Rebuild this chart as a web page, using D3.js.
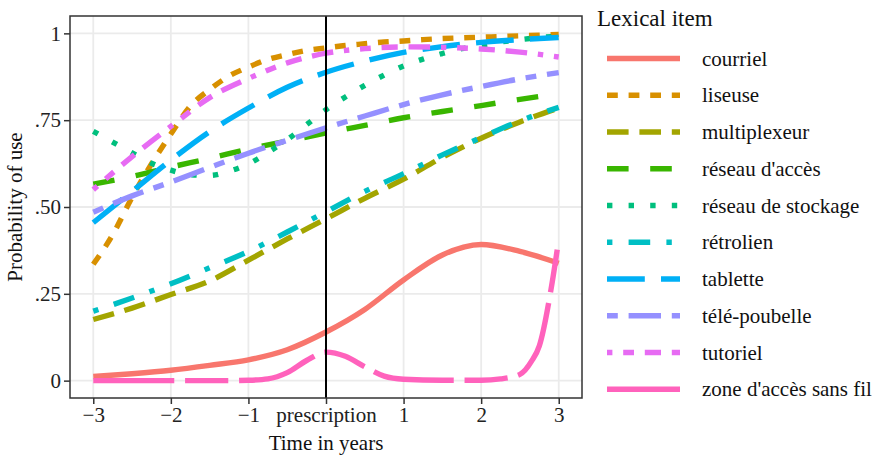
<!DOCTYPE html>
<html lang="en">
	<head>
		<meta charset="utf-8">
		<title>probability of use</title>
		<script type="text/javascript" src="https://d3js.org/d3.v7.min.js"></script>
		<style type="text/css">
            body{margin:0;background:#fff;}
            svg text{font-family:"Liberation Serif","Times New Roman",serif;fill:#111;}
		</style>
	</head>
	<body>
    <div id="chart1"></div>
		<script type="text/javascript">
            //the data. most series use half year steps
            var years = [-3,-2.5,-2,-1.5,-1,-0.5,0,0.5,1,1.5,2,2.5,3]
            //some curves bend more so they get quarter steps
            var yearsFine = [-3,-2.75,-2.5,-2.25,-2,-1.75,-1.5,-1.25,-1,-0.75,-0.5,-0.25,0,0.25,0.5,0.75,1,1.25,1.5,1.75,2,2.25,2.5,2.75,3]
            var zoneYears = [-3,-2,-1.25,-1,-0.75,-0.5,-0.25,0,0.25,0.5,0.75,1,1.5,2,2.25,2.5,2.65,2.75,2.9,3]

            var items = ["courriel","liseuse","multiplexeur","réseau d'accès","réseau de stockage","rétrolien","tablette","télé-poubelle","tutoriel","zone d'accès sans fil"]

            var courriel = [0.012,0.02,0.03,0.044,0.06,0.089,0.14,0.205,0.29,0.362,0.392,0.372,0.338]
            var liseuse = [0.335,0.42,0.528,0.624,0.71,0.79,0.838,0.877,0.903,0.925,0.939,0.951,0.958,0.965,0.97,0.975,0.978,0.982,0.985,0.987,0.989,0.991,0.993,0.995,0.997]
            var multiplexeur = [0.176,0.209,0.248,0.287,0.347,0.408,0.466,0.525,0.58,0.643,0.698,0.745,0.785]
            var reseauAcces = [0.566,0.588,0.615,0.64,0.667,0.69,0.713,0.735,0.757,0.775,0.792,0.81,0.826]
            var reseauStockage = [0.718,0.687,0.656,0.626,0.606,0.593,0.591,0.603,0.624,0.657,0.694,0.737,0.78,0.817,0.85,0.88,0.906,0.926,0.942,0.956,0.966,0.975,0.982,0.988,0.992]
            var retrolien = [0.2,0.238,0.279,0.325,0.372,0.428,0.486,0.545,0.596,0.65,0.7,0.748,0.787]
            var tablette = [0.455,0.545,0.635,0.717,0.785,0.845,0.888,0.92,0.945,0.962,0.974,0.982,0.988]
            var telePoubelle = [0.485,0.532,0.572,0.614,0.655,0.692,0.728,0.762,0.795,0.823,0.847,0.869,0.887]
            var tutoriel = [0.55,0.645,0.732,0.815,0.87,0.915,0.943,0.956,0.961,0.96,0.955,0.946,0.932]
            var zone = [0,0,0,0.001,0.005,0.023,0.058,0.082,0.07,0.04,0.013,0.004,0.001,0.001,0.005,0.018,0.056,0.1,0.262,0.406]

            var xTicks = [-3,-2,-1,0,1,2,3]
            var xTickLabels = ["\u22123","\u22122","\u22121","prescription","1","2","3"]
            var yTicks = [0,0.25,0.5,0.75,1]
            var yTickLabels = ["0",".25",".50",".75","1"]

            //ggplot default hue colours and linetypes, in factor order
            var colors = ["#F8766D","#D89000","#A3A500","#39B600","#00BF7D","#00BFC4","#00B0F6","#9590FF","#E76BF3","#FF62BC"]
            var linetypes = ["solid","22","42","44","13","1343","73","2262","12223242","F282"]

            //pair each item with its x values
            var series = [
                {name:items[0], x:years, y:courriel},
                {name:items[1], x:yearsFine, y:liseuse},
                {name:items[2], x:years, y:multiplexeur},
                {name:items[3], x:years, y:reseauAcces},
                {name:items[4], x:yearsFine, y:reseauStockage},
                {name:items[5], x:years, y:retrolien},
                {name:items[6], x:years, y:tablette},
                {name:items[7], x:years, y:telePoubelle},
                {name:items[8], x:years, y:tutoriel},
                {name:items[9], x:zoneYears, y:zone}
            ]

            var serif = "'Liberation Serif','Times New Roman',serif"

            drawChart(series)

            //turns an R linetype like "1343" into a svg dasharray, lengths are multiples of line width
            function dash(lt, lw){
                if(lt=="solid"){return null}
                return lt.split("").map(function(c){
                    return parseInt(c,16)*lw
                }).join(",")
            }

            function drawChart(series){
                var w = 876
                var h = 458
                var left = 70, right = 582, top = 16, bottom = 398
                var lw = 5.4

                var svg = d3.select("#chart1")
                            .append("svg")
                            .attr("width",w)
                            .attr("height",h)

                //5% expansion on both axes like ggplot
                var xScale = d3.scaleLinear().domain([-3.3,3.3]).range([left,right])
                var yScale = d3.scaleLinear().domain([-0.05,1.05]).range([bottom,top])

                //grid lines
                svg.append("g")
                    .selectAll("line")
                    .data(xTicks)
                    .enter()
                    .append("line")
                    .attr("x1",function(d){return xScale(d)})
                    .attr("x2",function(d){return xScale(d)})
                    .attr("y1",top)
                    .attr("y2",bottom)
                    .attr("stroke","#ebebeb")
                    .attr("stroke-width",1.8)
                svg.append("g")
                    .selectAll("line")
                    .data(yTicks)
                    .enter()
                    .append("line")
                    .attr("y1",function(d){return yScale(d)})
                    .attr("y2",function(d){return yScale(d)})
                    .attr("x1",left)
                    .attr("x2",right)
                    .attr("stroke","#ebebeb")
                    .attr("stroke-width",1.8)

                var line = d3.line()
                    .x(function(d){return xScale(d[0])})
                    .y(function(d){return yScale(d[1])})
                    .curve(d3.curveMonotoneX)

                svg.append("g")
                    .selectAll("path")
                    .data(series)
                    .enter()
                    .append("path")
                    .attr("d",function(d){
                        return line(d.x.map(function(t,i){return [t,d.y[i]]}))
                    })
                    .attr("fill","none")
                    .attr("stroke",function(d,i){return colors[i]})
                    .attr("stroke-width",lw)
                    .attr("stroke-dasharray",function(d,i){return dash(linetypes[i],lw)})

                //the prescription line
                svg.append("line")
                    .attr("x1",xScale(0))
                    .attr("x2",xScale(0))
                    .attr("y1",top)
                    .attr("y2",bottom)
                    .attr("stroke","#000")
                    .attr("stroke-width",2)

                //panel border
                svg.append("rect")
                    .attr("x",left)
                    .attr("y",top)
                    .attr("width",right-left)
                    .attr("height",bottom-top)
                    .attr("fill","none")
                    .attr("stroke","#333")
                    .attr("stroke-width",1.5)

                //axes
                var xAxis = d3.axisBottom(xScale)
                    .tickValues(xTicks)
                    .tickSize(6)
                    .tickPadding(3)
                    .tickFormat(function(d,i){return xTickLabels[i]})
                svg.append("g")
                    .attr("class","axis")
                    .attr("transform","translate(0,"+bottom+")")
                    .call(xAxis)
                var yAxis = d3.axisLeft(yScale)
                    .tickValues(yTicks)
                    .tickSize(6)
                    .tickPadding(3)
                    .tickFormat(function(d,i){return yTickLabels[i]})
                svg.append("g")
                    .attr("class","axis")
                    .attr("transform","translate("+left+",0)")
                    .call(yAxis)
                //d3 puts sans-serif on the axis group, so set the serif straight on the labels
                svg.selectAll(".axis .domain").remove()
                svg.selectAll(".axis line").attr("stroke","#333").attr("stroke-width",1.5)
                svg.selectAll(".axis text")
                    .style("font-family",serif)
                    .style("font-size","21px")
                    .style("fill","#222")

                //axis titles
                svg.append("text")
                    .attr("x",(left+right)/2)
                    .attr("y",450)
                    .attr("text-anchor","middle")
                    .attr("font-size",21)
                    .text("Time in years")
                svg.append("text")
                    .attr("transform","translate(22,"+((top+bottom)/2)+") rotate(-90)")
                    .attr("text-anchor","middle")
                    .attr("font-size",21)
                    .text("Probability of use")

                //legend
                var legend = svg.append("g")
                legend.append("text")
                    .attr("x",597)
                    .attr("y",26)
                    .attr("font-size",23)
                    .text("Lexical item")
                var keys = legend.selectAll(".key")
                    .data(series)
                    .enter()
                    .append("g")
                    .attr("class","key")
                    .attr("transform",function(d,i){return "translate(0,"+(58.5+i*36.75)+")"})
                keys.append("line")
                    .attr("x1",607)
                    .attr("x2",680)
                    .attr("stroke",function(d,i){return colors[i]})
                    .attr("stroke-width",lw)
                    .attr("stroke-dasharray",function(d,i){return dash(linetypes[i],lw)})
                keys.append("text")
                    .attr("x",702)
                    .attr("y",7)
                    .attr("font-size",21)
                    .text(function(d){return d.name})
            }
		</script>
	</body>
</html>
